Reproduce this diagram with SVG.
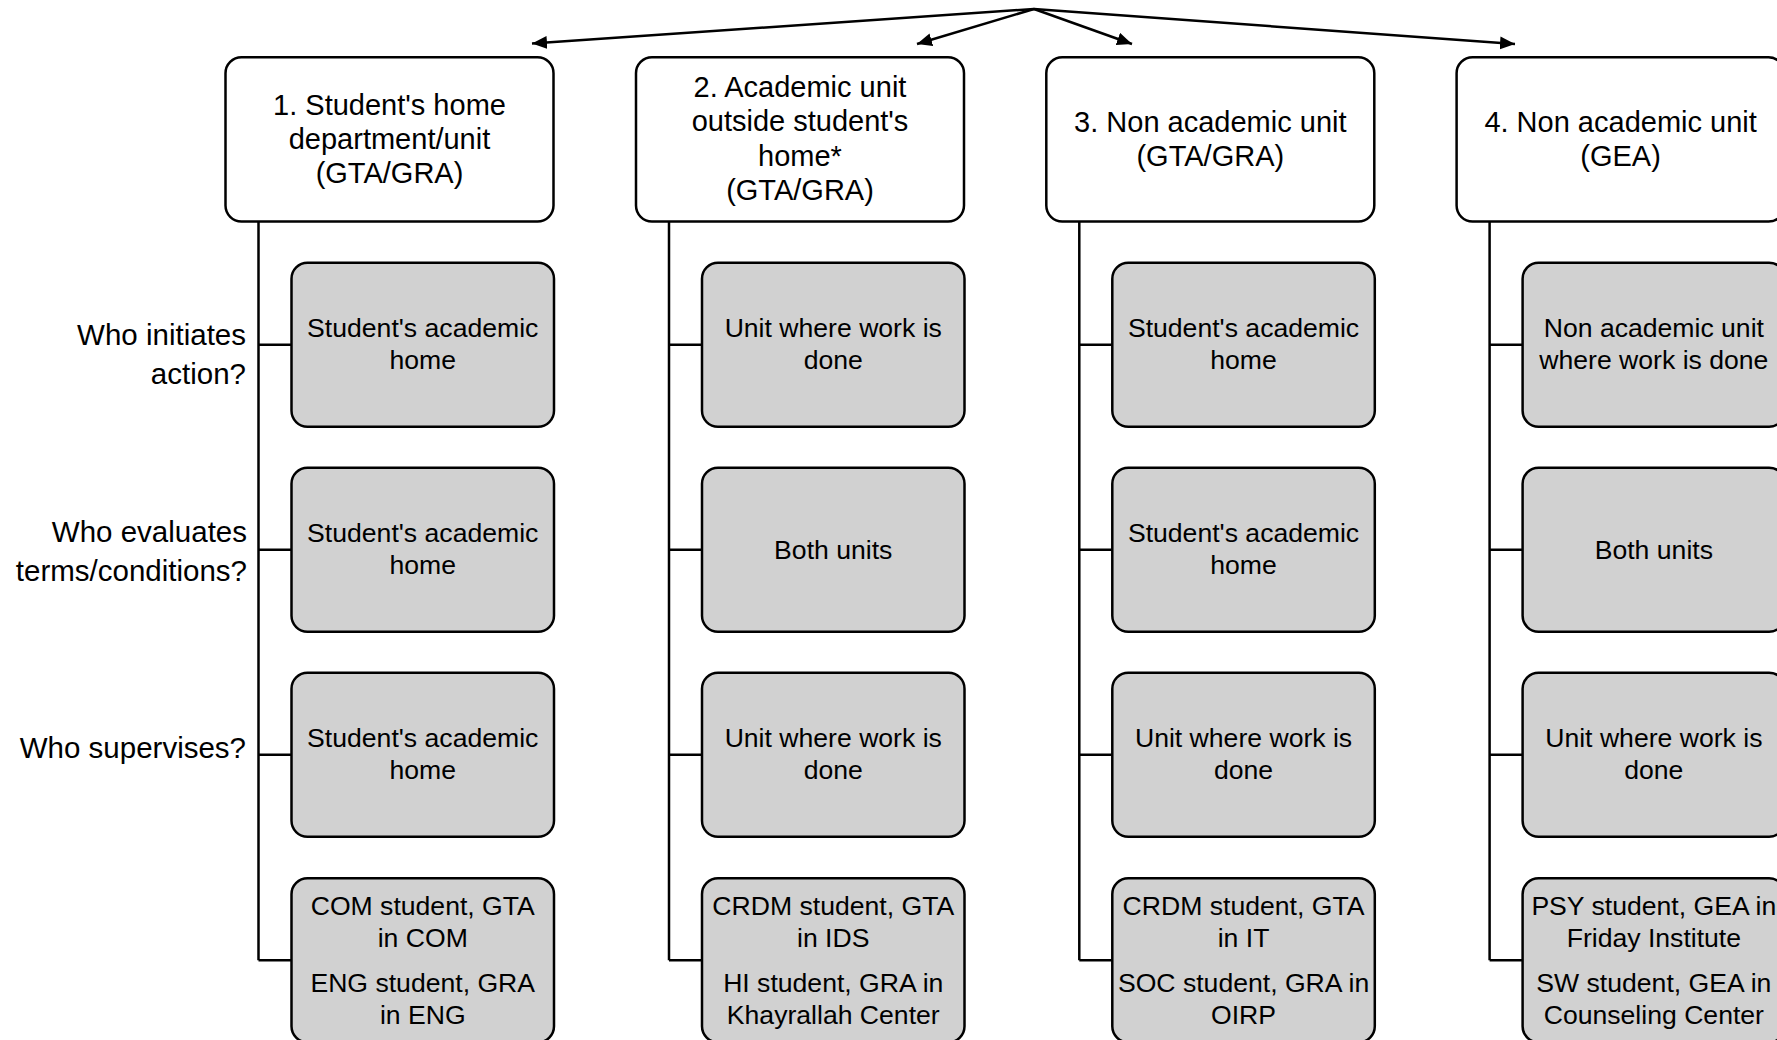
<svg xmlns="http://www.w3.org/2000/svg" width="1777" height="1040" viewBox="0 0 1777 1040">
<style>
text{font-family:"Liberation Sans",Arial,sans-serif;fill:#000}
.hd{fill:#fff;stroke:#000;stroke-width:2.5}
.gb{fill:#d1d1d1;stroke:#000;stroke-width:2.5}
.ht{font-size:29px;text-anchor:middle}
.bt{font-size:26.6px;text-anchor:middle}
.lb{font-size:29.5px;text-anchor:end}
.cn{fill:none;stroke:#000;stroke-width:2.5}
</style>
<defs>
<marker id="ah" markerUnits="userSpaceOnUse" markerWidth="16" markerHeight="14" refX="15" refY="6.5" orient="auto">
<path d="M0,0 L15,6.5 L0,13 z" fill="#000"/>
</marker>
</defs>
<g id="connectors">
<line class="cn" x1="1034" y1="9" x2="532" y2="43.5" marker-end="url(#ah)"/>
<line class="cn" x1="1034" y1="9" x2="917" y2="44" marker-end="url(#ah)"/>
<line class="cn" x1="1034" y1="9" x2="1132" y2="44" marker-end="url(#ah)"/>
<line class="cn" x1="1034" y1="9" x2="1515" y2="44" marker-end="url(#ah)"/>
<path class="cn" d="M258.5,221.6 V960.3 M258.5,344.7 H291.5 M258.5,549.7 H291.5 M258.5,754.7 H291.5 M258.5,960.3 H291.5"/>
<path class="cn" d="M669,221.6 V960.3 M669,344.7 H702 M669,549.7 H702 M669,754.7 H702 M669,960.3 H702"/>
<path class="cn" d="M1079.3,221.6 V960.3 M1079.3,344.7 H1112.3 M1079.3,549.7 H1112.3 M1079.3,754.7 H1112.3 M1079.3,960.3 H1112.3"/>
<path class="cn" d="M1489.6,221.6 V960.3 M1489.6,344.7 H1522.6 M1489.6,549.7 H1522.6 M1489.6,754.7 H1522.6 M1489.6,960.3 H1522.6"/>
</g>
<g id="labels">
<text class="lb" x="246" y="345">Who initiates</text>
<text class="lb" x="246" y="383.5">action?</text>
<text class="lb" x="247" y="542">Who evaluates</text>
<text class="lb" x="247" y="581">terms/conditions?</text>
<text class="lb" x="246" y="758">Who supervises?</text>
</g>
<g id="h1"><rect class="hd" x="225.5" y="57.3" width="328" height="164.3" rx="16"/>
<text class="ht" x="389.5" y="114.5">1. Student's home</text><text class="ht" x="389.5" y="148.7">department/unit</text><text class="ht" x="389.5" y="183.2">(GTA/GRA)</text></g>
<g id="h2"><rect class="hd" x="636" y="57.3" width="328" height="164.3" rx="16"/>
<text class="ht" x="800" y="96.5">2. Academic unit</text><text class="ht" x="800" y="131">outside student's</text><text class="ht" x="800" y="165.5">home*</text><text class="ht" x="800" y="200">(GTA/GRA)</text></g>
<g id="h3"><rect class="hd" x="1046.3" y="57.3" width="328" height="164.3" rx="16"/>
<text class="ht" x="1210.3" y="131.5">3. Non academic unit</text><text class="ht" x="1210.3" y="165.5">(GTA/GRA)</text></g>
<g id="h4"><rect class="hd" x="1456.6" y="57.3" width="328" height="164.3" rx="16"/>
<text class="ht" x="1620.6" y="131.5">4. Non academic unit</text><text class="ht" x="1620.6" y="165.5">(GEA)</text></g>

<g id="c1r1"><rect class="gb" x="291.5" y="262.7" width="262.5" height="164" rx="16"/><text class="bt" x="422.75" y="336.9">Student's academic</text><text class="bt" x="422.75" y="368.5">home</text></g>
<g id="c1r2"><rect class="gb" x="291.5" y="467.7" width="262.5" height="164" rx="16"/><text class="bt" x="422.75" y="541.9">Student's academic</text><text class="bt" x="422.75" y="573.5">home</text></g>
<g id="c1r3"><rect class="gb" x="291.5" y="672.7" width="262.5" height="164" rx="16"/><text class="bt" x="422.75" y="746.9">Student's academic</text><text class="bt" x="422.75" y="778.5">home</text></g>
<g id="c1r4"><rect class="gb" x="291.5" y="878.3" width="262.5" height="164" rx="16"/><text class="bt" x="422.75" y="915">COM student, GTA</text><text class="bt" x="422.75" y="947">in COM</text><text class="bt" x="422.75" y="992">ENG student, GRA</text><text class="bt" x="422.75" y="1024">in ENG</text></g>

<g id="c2r1"><rect class="gb" x="702" y="262.7" width="262.5" height="164" rx="16"/><text class="bt" x="833.25" y="336.9">Unit where work is</text><text class="bt" x="833.25" y="368.5">done</text></g>
<g id="c2r2"><rect class="gb" x="702" y="467.7" width="262.5" height="164" rx="16"/><text class="bt" x="833.25" y="559.2">Both units</text></g>
<g id="c2r3"><rect class="gb" x="702" y="672.7" width="262.5" height="164" rx="16"/><text class="bt" x="833.25" y="746.9">Unit where work is</text><text class="bt" x="833.25" y="778.5">done</text></g>
<g id="c2r4"><rect class="gb" x="702" y="878.3" width="262.5" height="164" rx="16"/><text class="bt" x="833.25" y="915">CRDM student, GTA</text><text class="bt" x="833.25" y="947">in IDS</text><text class="bt" x="833.25" y="992">HI student, GRA in</text><text class="bt" x="833.25" y="1024">Khayrallah Center</text></g>

<g id="c3r1"><rect class="gb" x="1112.3" y="262.7" width="262.5" height="164" rx="16"/><text class="bt" x="1243.55" y="336.9">Student's academic</text><text class="bt" x="1243.55" y="368.5">home</text></g>
<g id="c3r2"><rect class="gb" x="1112.3" y="467.7" width="262.5" height="164" rx="16"/><text class="bt" x="1243.55" y="541.9">Student's academic</text><text class="bt" x="1243.55" y="573.5">home</text></g>
<g id="c3r3"><rect class="gb" x="1112.3" y="672.7" width="262.5" height="164" rx="16"/><text class="bt" x="1243.55" y="746.9">Unit where work is</text><text class="bt" x="1243.55" y="778.5">done</text></g>
<g id="c3r4"><rect class="gb" x="1112.3" y="878.3" width="262.5" height="164" rx="16"/><text class="bt" x="1243.55" y="915">CRDM student, GTA</text><text class="bt" x="1243.55" y="947">in IT</text><text class="bt" x="1243.55" y="992">SOC student, GRA in</text><text class="bt" x="1243.55" y="1024">OIRP</text></g>

<g id="c4r1"><rect class="gb" x="1522.6" y="262.7" width="262.5" height="164" rx="16"/><text class="bt" x="1653.85" y="336.9">Non academic unit</text><text class="bt" x="1653.85" y="368.5">where work is done</text></g>
<g id="c4r2"><rect class="gb" x="1522.6" y="467.7" width="262.5" height="164" rx="16"/><text class="bt" x="1653.85" y="559.2">Both units</text></g>
<g id="c4r3"><rect class="gb" x="1522.6" y="672.7" width="262.5" height="164" rx="16"/><text class="bt" x="1653.85" y="746.9">Unit where work is</text><text class="bt" x="1653.85" y="778.5">done</text></g>
<g id="c4r4"><rect class="gb" x="1522.6" y="878.3" width="262.5" height="164" rx="16"/><text class="bt" x="1653.85" y="915">PSY student, GEA in</text><text class="bt" x="1653.85" y="947">Friday Institute</text><text class="bt" x="1653.85" y="992">SW student, GEA in</text><text class="bt" x="1653.85" y="1024">Counseling Center</text></g>
</svg>
